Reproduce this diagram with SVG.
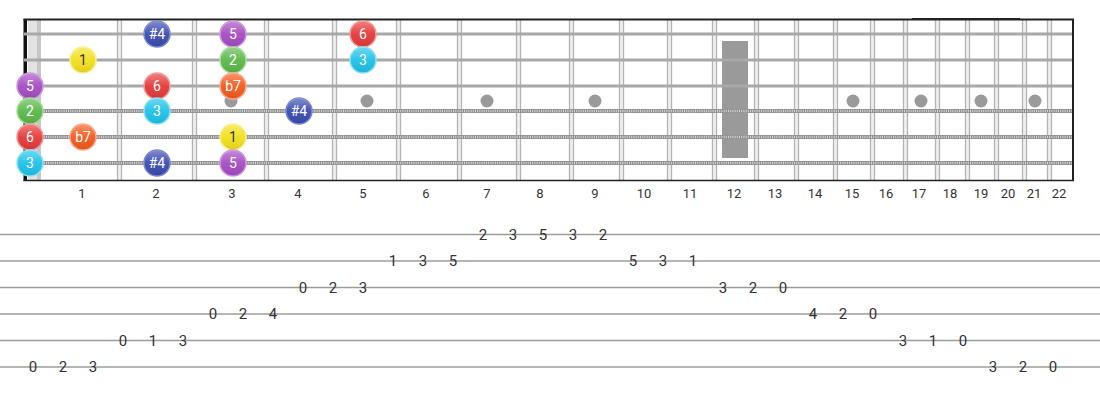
<svg xmlns="http://www.w3.org/2000/svg" width="1100" height="400" viewBox="0 0 1100 400">
<style>
.fret{stroke:#b3b3b3;stroke-width:1.3;fill:none}
.fretfill{fill:#f0f0f0}
.plain{stroke:#a8a8a8;stroke-width:3}
.wound{stroke:#8e8e8e;stroke-width:4}
.woundtex{stroke:#d6d6d6;stroke-width:2.4;stroke-dasharray:1 1.2}
.dot{fill:#9a9a9a}
.num{font-family:Roboto,"Liberation Sans",sans-serif;font-size:13px;fill:#333;text-anchor:middle}
.tabline{stroke:#9c9c9c;stroke-width:1.6}
.tab{font-family:Roboto,"Liberation Sans",sans-serif;font-size:15px;fill:#333;text-anchor:middle;dominant-baseline:central}
.nt{font-family:Roboto,"Liberation Sans",sans-serif;font-size:14px;fill:#fff;text-anchor:middle;dominant-baseline:central}
.dark{fill:#333}
.gloss{fill:url(#gl)}
</style>
<defs>
<linearGradient id="gl" x1="0" y1="0" x2="0" y2="1">
<stop offset="0" stop-color="#fff" stop-opacity="0.35"/>
<stop offset="0.5" stop-color="#fff" stop-opacity="0.05"/>
<stop offset="1" stop-color="#000" stop-opacity="0.08"/>
</linearGradient>
</defs>
<rect width="1100" height="400" fill="#fff"/>
<g id="fretboard">
<rect x="28" y="20" width="10" height="160" fill="#e2e2e2"/>
<rect x="37" y="20" width="4" height="160" fill="#c6c6c6"/>
<rect x="722" y="41" width="26" height="117" class="dot"/>
<g id="frets">
<g transform="translate(119.5 0)"><rect x="-2" y="20" width="4" height="160" class="fretfill"/><line x1="-2" y1="20" x2="-2" y2="180" class="fret"/><line x1="2" y1="20" x2="2" y2="180" class="fret"/></g>
<g transform="translate(194.5 0)"><rect x="-2" y="20" width="4" height="160" class="fretfill"/><line x1="-2" y1="20" x2="-2" y2="180" class="fret"/><line x1="2" y1="20" x2="2" y2="180" class="fret"/></g>
<g transform="translate(266.5 0)"><rect x="-2" y="20" width="4" height="160" class="fretfill"/><line x1="-2" y1="20" x2="-2" y2="180" class="fret"/><line x1="2" y1="20" x2="2" y2="180" class="fret"/></g>
<g transform="translate(334.5 0)"><rect x="-2" y="20" width="4" height="160" class="fretfill"/><line x1="-2" y1="20" x2="-2" y2="180" class="fret"/><line x1="2" y1="20" x2="2" y2="180" class="fret"/></g>
<g transform="translate(398.5 0)"><rect x="-2" y="20" width="4" height="160" class="fretfill"/><line x1="-2" y1="20" x2="-2" y2="180" class="fret"/><line x1="2" y1="20" x2="2" y2="180" class="fret"/></g>
<g transform="translate(459.5 0)"><rect x="-2" y="20" width="4" height="160" class="fretfill"/><line x1="-2" y1="20" x2="-2" y2="180" class="fret"/><line x1="2" y1="20" x2="2" y2="180" class="fret"/></g>
<g transform="translate(518.5 0)"><rect x="-2" y="20" width="4" height="160" class="fretfill"/><line x1="-2" y1="20" x2="-2" y2="180" class="fret"/><line x1="2" y1="20" x2="2" y2="180" class="fret"/></g>
<g transform="translate(571.5 0)"><rect x="-2" y="20" width="4" height="160" class="fretfill"/><line x1="-2" y1="20" x2="-2" y2="180" class="fret"/><line x1="2" y1="20" x2="2" y2="180" class="fret"/></g>
<g transform="translate(621.5 0)"><rect x="-2" y="20" width="4" height="160" class="fretfill"/><line x1="-2" y1="20" x2="-2" y2="180" class="fret"/><line x1="2" y1="20" x2="2" y2="180" class="fret"/></g>
<g transform="translate(669.5 0)"><rect x="-2" y="20" width="4" height="160" class="fretfill"/><line x1="-2" y1="20" x2="-2" y2="180" class="fret"/><line x1="2" y1="20" x2="2" y2="180" class="fret"/></g>
<g transform="translate(714.5 0)"><rect x="-2" y="20" width="4" height="160" class="fretfill"/><line x1="-2" y1="20" x2="-2" y2="180" class="fret"/><line x1="2" y1="20" x2="2" y2="180" class="fret"/></g>
<g transform="translate(756.5 0)"><rect x="-2" y="20" width="4" height="160" class="fretfill"/><line x1="-2" y1="20" x2="-2" y2="180" class="fret"/><line x1="2" y1="20" x2="2" y2="180" class="fret"/></g>
<g transform="translate(796.5 0)"><rect x="-2" y="20" width="4" height="160" class="fretfill"/><line x1="-2" y1="20" x2="-2" y2="180" class="fret"/><line x1="2" y1="20" x2="2" y2="180" class="fret"/></g>
<g transform="translate(835.5 0)"><rect x="-2" y="20" width="4" height="160" class="fretfill"/><line x1="-2" y1="20" x2="-2" y2="180" class="fret"/><line x1="2" y1="20" x2="2" y2="180" class="fret"/></g>
<g transform="translate(872.5 0)"><rect x="-2" y="20" width="4" height="160" class="fretfill"/><line x1="-2" y1="20" x2="-2" y2="180" class="fret"/><line x1="2" y1="20" x2="2" y2="180" class="fret"/></g>
<g transform="translate(905.5 0)"><rect x="-2" y="20" width="4" height="160" class="fretfill"/><line x1="-2" y1="20" x2="-2" y2="180" class="fret"/><line x1="2" y1="20" x2="2" y2="180" class="fret"/></g>
<g transform="translate(937.5 0)"><rect x="-2" y="20" width="4" height="160" class="fretfill"/><line x1="-2" y1="20" x2="-2" y2="180" class="fret"/><line x1="2" y1="20" x2="2" y2="180" class="fret"/></g>
<g transform="translate(967.5 0)"><rect x="-2" y="20" width="4" height="160" class="fretfill"/><line x1="-2" y1="20" x2="-2" y2="180" class="fret"/><line x1="2" y1="20" x2="2" y2="180" class="fret"/></g>
<g transform="translate(996.5 0)"><rect x="-2" y="20" width="4" height="160" class="fretfill"/><line x1="-2" y1="20" x2="-2" y2="180" class="fret"/><line x1="2" y1="20" x2="2" y2="180" class="fret"/></g>
<g transform="translate(1024.5 0)"><rect x="-2" y="20" width="4" height="160" class="fretfill"/><line x1="-2" y1="20" x2="-2" y2="180" class="fret"/><line x1="2" y1="20" x2="2" y2="180" class="fret"/></g>
<g transform="translate(1049.5 0)"><rect x="-2" y="20" width="4" height="160" class="fretfill"/><line x1="-2" y1="20" x2="-2" y2="180" class="fret"/><line x1="2" y1="20" x2="2" y2="180" class="fret"/></g>
</g>
<g id="inlays">
<circle cx="231" cy="101" r="6.5" class="dot"/>
<circle cx="367" cy="101" r="6.5" class="dot"/>
<circle cx="487" cy="101" r="6.5" class="dot"/>
<circle cx="595" cy="101" r="6.5" class="dot"/>
<circle cx="853" cy="101" r="6.5" class="dot"/>
<circle cx="921" cy="101" r="6.5" class="dot"/>
<circle cx="981" cy="101" r="6.5" class="dot"/>
<circle cx="1035" cy="101" r="6.5" class="dot"/>
</g>
<rect x="23.5" y="19" width="3.5" height="162" fill="#111"/>
<g id="strings">
<line x1="24" y1="34" x2="1073" y2="34" class="plain"/>
<line x1="24" y1="60" x2="1073" y2="60" class="plain"/>
<line x1="24" y1="86" x2="1073" y2="86" class="plain"/>
<line x1="24" y1="111" x2="1073" y2="111" class="wound"/>
<line x1="24" y1="111" x2="1073" y2="111" class="woundtex"/>
<line x1="24" y1="137" x2="1073" y2="137" class="wound"/>
<line x1="24" y1="137" x2="1073" y2="137" class="woundtex"/>
<line x1="24" y1="163" x2="1073" y2="163" class="wound"/>
<line x1="24" y1="163" x2="1073" y2="163" class="woundtex"/>
</g>
<line x1="23.5" y1="19.5" x2="1074" y2="19.5" stroke="#222" stroke-width="2"/>
<line x1="912" y1="18.5" x2="1020" y2="18.5" stroke="#222" stroke-width="1"/>
<line x1="1073" y1="19" x2="1073" y2="181" stroke="#222" stroke-width="2"/>
<line x1="23.5" y1="180.5" x2="1074" y2="180.5" stroke="#222" stroke-width="1.5"/>
</g>
<g id="notes">
<g id="n-s1-f2"><circle cx="157" cy="34" r="13" fill="#3a4cb0" stroke="#7a88d0" stroke-width="1.5"/><circle cx="157" cy="34" r="12.5" class="gloss"/><text x="157" y="34" class="nt">#4</text></g>
<g id="n-s1-f3"><circle cx="233" cy="34" r="13" fill="#a54cc2" stroke="#cf95e0" stroke-width="1.5"/><circle cx="233" cy="34" r="12.5" class="gloss"/><text x="233" y="34" class="nt">5</text></g>
<g id="n-s1-f5"><circle cx="363" cy="34" r="13" fill="#e53a3a" stroke="#f29a9a" stroke-width="1.5"/><circle cx="363" cy="34" r="12.5" class="gloss"/><text x="363" y="34" class="nt">6</text></g>
<g id="n-s2-f1"><circle cx="83" cy="60" r="13" fill="#f2e01c" stroke="#faf090" stroke-width="1.5"/><circle cx="83" cy="60" r="12.5" class="gloss"/><text x="83" y="60" class="nt dark">1</text></g>
<g id="n-s2-f3"><circle cx="233" cy="60" r="13" fill="#5cb84a" stroke="#a8dc9c" stroke-width="1.5"/><circle cx="233" cy="60" r="12.5" class="gloss"/><text x="233" y="60" class="nt">2</text></g>
<g id="n-s2-f5"><circle cx="363" cy="60" r="13" fill="#1fc2e8" stroke="#8ae2f4" stroke-width="1.5"/><circle cx="363" cy="60" r="12.5" class="gloss"/><text x="363" y="60" class="nt">3</text></g>
<g id="n-s3-f0"><circle cx="30" cy="86" r="13" fill="#a54cc2" stroke="#cf95e0" stroke-width="1.5"/><circle cx="30" cy="86" r="12.5" class="gloss"/><text x="30" y="86" class="nt">5</text></g>
<g id="n-s3-f2"><circle cx="157" cy="86" r="13" fill="#e53a3a" stroke="#f29a9a" stroke-width="1.5"/><circle cx="157" cy="86" r="12.5" class="gloss"/><text x="157" y="86" class="nt">6</text></g>
<g id="n-s3-f3"><circle cx="233" cy="86" r="13" fill="#f45a1e" stroke="#fba98a" stroke-width="1.5"/><circle cx="233" cy="86" r="12.5" class="gloss"/><text x="233" y="86" class="nt">b7</text></g>
<g id="n-s4-f0"><circle cx="30" cy="111" r="13" fill="#5cb84a" stroke="#a8dc9c" stroke-width="1.5"/><circle cx="30" cy="111" r="12.5" class="gloss"/><text x="30" y="111" class="nt">2</text></g>
<g id="n-s4-f2"><circle cx="157" cy="111" r="13" fill="#1fc2e8" stroke="#8ae2f4" stroke-width="1.5"/><circle cx="157" cy="111" r="12.5" class="gloss"/><text x="157" y="111" class="nt">3</text></g>
<g id="n-s4-f4"><circle cx="299" cy="111" r="13" fill="#3a4cb0" stroke="#7a88d0" stroke-width="1.5"/><circle cx="299" cy="111" r="12.5" class="gloss"/><text x="299" y="111" class="nt">#4</text></g>
<g id="n-s5-f0"><circle cx="30" cy="137" r="13" fill="#e53a3a" stroke="#f29a9a" stroke-width="1.5"/><circle cx="30" cy="137" r="12.5" class="gloss"/><text x="30" y="137" class="nt">6</text></g>
<g id="n-s5-f1"><circle cx="83" cy="137" r="13" fill="#f45a1e" stroke="#fba98a" stroke-width="1.5"/><circle cx="83" cy="137" r="12.5" class="gloss"/><text x="83" y="137" class="nt">b7</text></g>
<g id="n-s5-f3"><circle cx="233" cy="137" r="13" fill="#f2e01c" stroke="#faf090" stroke-width="1.5"/><circle cx="233" cy="137" r="12.5" class="gloss"/><text x="233" y="137" class="nt dark">1</text></g>
<g id="n-s6-f0"><circle cx="30" cy="163" r="13" fill="#1fc2e8" stroke="#8ae2f4" stroke-width="1.5"/><circle cx="30" cy="163" r="12.5" class="gloss"/><text x="30" y="163" class="nt">3</text></g>
<g id="n-s6-f2"><circle cx="157" cy="163" r="13" fill="#3a4cb0" stroke="#7a88d0" stroke-width="1.5"/><circle cx="157" cy="163" r="12.5" class="gloss"/><text x="157" y="163" class="nt">#4</text></g>
<g id="n-s6-f3"><circle cx="233" cy="163" r="13" fill="#a54cc2" stroke="#cf95e0" stroke-width="1.5"/><circle cx="233" cy="163" r="12.5" class="gloss"/><text x="233" y="163" class="nt">5</text></g>
</g>
<g id="fret-numbers">
<text x="82" y="198" class="num">1</text>
<text x="156" y="198" class="num">2</text>
<text x="232" y="198" class="num">3</text>
<text x="298" y="198" class="num">4</text>
<text x="363" y="198" class="num">5</text>
<text x="426" y="198" class="num">6</text>
<text x="487" y="198" class="num">7</text>
<text x="540" y="198" class="num">8</text>
<text x="595" y="198" class="num">9</text>
<text x="644" y="198" class="num">10</text>
<text x="690" y="198" class="num">11</text>
<text x="734" y="198" class="num">12</text>
<text x="775" y="198" class="num">13</text>
<text x="815" y="198" class="num">14</text>
<text x="852" y="198" class="num">15</text>
<text x="886" y="198" class="num">16</text>
<text x="919" y="198" class="num">17</text>
<text x="950" y="198" class="num">18</text>
<text x="981" y="198" class="num">19</text>
<text x="1008" y="198" class="num">20</text>
<text x="1034" y="198" class="num">21</text>
<text x="1059" y="198" class="num">22</text>
</g>
<g id="tab-lines">
<line x1="0" y1="234.5" x2="1100" y2="234.5" class="tabline"/>
<line x1="0" y1="261" x2="1100" y2="261" class="tabline"/>
<line x1="0" y1="287.5" x2="1100" y2="287.5" class="tabline"/>
<line x1="0" y1="314" x2="1100" y2="314" class="tabline"/>
<line x1="0" y1="340.5" x2="1100" y2="340.5" class="tabline"/>
<line x1="0" y1="367" x2="1100" y2="367" class="tabline"/>
</g>
<g id="tab-notes">
<text x="33" y="367" class="tab">0</text>
<text x="63" y="367" class="tab">2</text>
<text x="93" y="367" class="tab">3</text>
<text x="123" y="340.5" class="tab">0</text>
<text x="153" y="340.5" class="tab">1</text>
<text x="183" y="340.5" class="tab">3</text>
<text x="213" y="314" class="tab">0</text>
<text x="243" y="314" class="tab">2</text>
<text x="273" y="314" class="tab">4</text>
<text x="303" y="287.5" class="tab">0</text>
<text x="333" y="287.5" class="tab">2</text>
<text x="363" y="287.5" class="tab">3</text>
<text x="393" y="261" class="tab">1</text>
<text x="423" y="261" class="tab">3</text>
<text x="453" y="261" class="tab">5</text>
<text x="483" y="234.5" class="tab">2</text>
<text x="513" y="234.5" class="tab">3</text>
<text x="543" y="234.5" class="tab">5</text>
<text x="573" y="234.5" class="tab">3</text>
<text x="603" y="234.5" class="tab">2</text>
<text x="633" y="261" class="tab">5</text>
<text x="663" y="261" class="tab">3</text>
<text x="693" y="261" class="tab">1</text>
<text x="723" y="287.5" class="tab">3</text>
<text x="753" y="287.5" class="tab">2</text>
<text x="783" y="287.5" class="tab">0</text>
<text x="813" y="314" class="tab">4</text>
<text x="843" y="314" class="tab">2</text>
<text x="873" y="314" class="tab">0</text>
<text x="903" y="340.5" class="tab">3</text>
<text x="933" y="340.5" class="tab">1</text>
<text x="963" y="340.5" class="tab">0</text>
<text x="993" y="367" class="tab">3</text>
<text x="1023" y="367" class="tab">2</text>
<text x="1053" y="367" class="tab">0</text>
</g>
</svg>
